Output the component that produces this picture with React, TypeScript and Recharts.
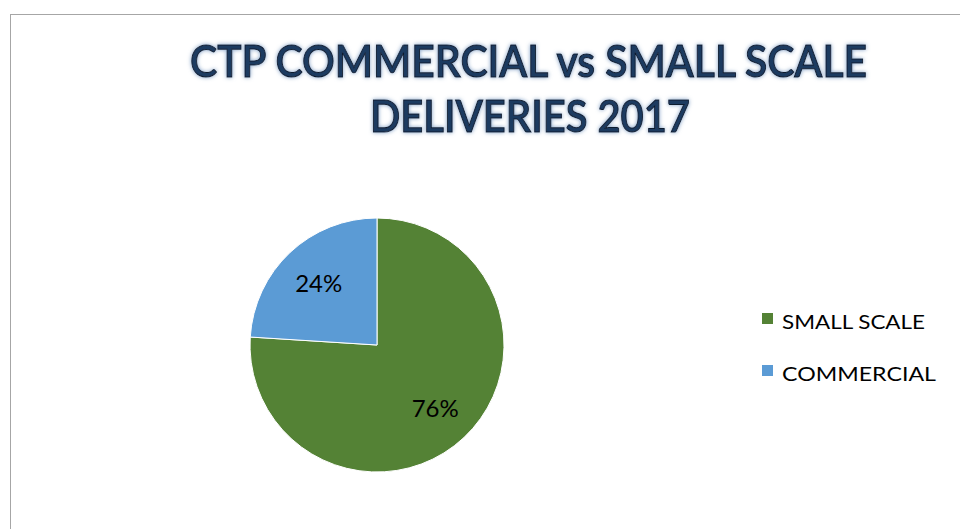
import { Legend, Pie, PieChart, Cell } from 'recharts';

const categories = ['SMALL SCALE', 'COMMERCIAL'];
const shares = [76, 24];
const sliceColors = ['#548235', '#5B9BD5'];
const titleLines = ['CTP COMMERCIAL vs SMALL SCALE', 'DELIVERIES 2017'];

const data = categories.map((name, i) => ({ name, value: shares[i] }));

const font = 'Lato, "Open Sans", sans-serif';
const RAD = Math.PI / 180;

function SliceLabel(props: any) {
  const { cx, cy, midAngle, outerRadius, percent } = props;
  const r = outerRadius * 0.67;
  const x = cx + r * Math.cos(-midAngle * RAD);
  const y = cy + r * Math.sin(-midAngle * RAD);
  return (
    <text x={x} y={y} textAnchor="middle" dominantBaseline="central" fill="#000" fontSize={24} fontFamily={font}>
      {`${Math.round(percent * 100)}%`}
    </text>
  );
}

function LegendBox(props: any) {
  // keep the legend in data order, not sorted by name
  const items = [...(props.payload || [])].sort(
    (a: any, b: any) => categories.indexOf(a.value) - categories.indexOf(b.value),
  );
  const widths = [143, 154];
  return (
    <svg width={190} height={80} style={{ overflow: 'visible' }}>
      {items.map((item: any, i: number) => (
        <g key={item.value} transform={`translate(0, ${i * 52})`}>
          <rect x={0} y={0} width={11} height={11} fill={item.color} />
          <text x={20} y={16} fontSize={20} fontFamily={font} fill="#000" textLength={widths[i]} lengthAdjust="spacingAndGlyphs">
            {item.value}
          </text>
        </g>
      ))}
    </svg>
  );
}

export default function App() {
  return (
    <div style={{ position: 'absolute', left: 0, top: 0, width: 960, height: 529, background: '#fff', overflow: 'hidden' }}>
      <div style={{ position: 'absolute', left: 10, top: 14, width: 1000, height: 600, border: '1.5px solid #a6a6a6', boxSizing: 'border-box' }} />
      <svg width={960} height={150} style={{ position: 'absolute', left: 0, top: 0 }}>
        <defs>
          <filter id="glow" x="-5%" y="-20%" width="110%" height="140%">
            <feGaussianBlur in="SourceAlpha" stdDeviation="2" result="b" />
            <feFlood floodColor="#7d9cc4" result="c" />
            <feComposite in="c" in2="b" operator="in" result="g" />
            <feMerge>
              <feMergeNode in="g" />
              <feMergeNode in="SourceGraphic" />
            </feMerge>
          </filter>
        </defs>
        {titleLines.map((line, i) => (
          <text
            key={line}
            x={i === 0 ? 190 : 370}
            y={i === 0 ? 77 : 132}
            fontSize={44}
            fontWeight={600}
            fontFamily={font}
            fill="#1F3A60"
            stroke="#0e1b2e"
            strokeWidth={1}
            textLength={i === 0 ? 677 : 320}
            lengthAdjust="spacingAndGlyphs"
            filter="url(#glow)"
          >
            {line}
          </text>
        ))}
      </svg>
      <PieChart
        width={960}
        height={529}
        margin={{ top: 0, right: 0, bottom: 0, left: 0 }}
        style={{ position: 'absolute', left: 0, top: 0 }}
      >
        <Pie
          data={data}
          dataKey="value"
          nameKey="name"
          cx={377}
          cy={345}
          outerRadius={127}
          startAngle={90}
          endAngle={-270}
          stroke="#fff"
          strokeWidth={1}
          label={SliceLabel}
          labelLine={false}
          isAnimationActive={false}
        >
          {data.map((d, i) => (
            <Cell key={d.name} fill={sliceColors[i]} />
          ))}
        </Pie>
        <Legend
          layout="vertical"
          content={LegendBox}
          wrapperStyle={{ position: 'absolute', left: 762, top: 313, width: 190 }}
        />
      </PieChart>
    </div>
  );
}
